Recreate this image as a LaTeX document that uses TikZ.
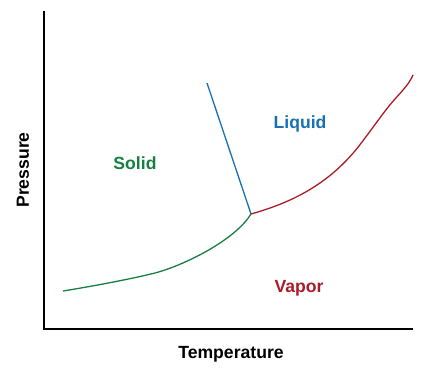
\documentclass[tikz,border=0pt]{standalone}
\usepackage{fontspec}
\setmainfont{Liberation Sans}
\definecolor{solidgreen}{RGB}{22,128,66}
\definecolor{liquidblue}{RGB}{22,112,178}
\definecolor{vaporred}{RGB}{170,28,40}
\tikzset{
  lbl/.style={font=\bfseries\fontsize{17.6}{20}\selectfont, inner sep=0pt},
  axisline/.style={line width=1.4pt, black},
  phaseline/.style={line width=1.3pt},
}
\begin{document}
\begin{tikzpicture}[x=1pt,y=-1pt]
\useasboundingbox (0,0) rectangle (427,371);
% axes
\coordinate (ytop) at (44,11);
\coordinate (origin) at (44,329);
\coordinate (xend) at (413,329);
\draw[axisline] (ytop) -- (origin) -- (xend);
% points
\coordinate (tp) at (251,214);
\coordinate (fusTop) at (207,83);
\coordinate (subStart) at (63,291);
\coordinate (vapEnd) at (413,75);
% sublimation curve
\draw[phaseline, solidgreen] (subStart) .. controls (100,285) and (135,278) .. (155,273)
  .. controls (185,265) and (235,240) .. (tp);
% fusion line
\draw[phaseline, liquidblue] (tp) -- (fusTop);
% vaporization curve
\draw[phaseline, vaporred] (tp) .. controls (290,203) and (330,185) .. (362,142)
  .. controls (375,125) and (385,110) .. (395,99)
  .. controls (403,90) and (409,84) .. (vapEnd);
% labels
\node[lbl, solidgreen] (solid) at (135,163) {Solid};
\node[lbl, liquidblue] (liquid) at (300,124) {Liquid};
\node[lbl, vaporred] (vapor) at (299,288) {Vapor};
\node[lbl] (xlab) at (231,354) {Temperature};
\node[lbl, rotate=90] (ylab) at (23,170) {Pressure};
\end{tikzpicture}
\end{document}
